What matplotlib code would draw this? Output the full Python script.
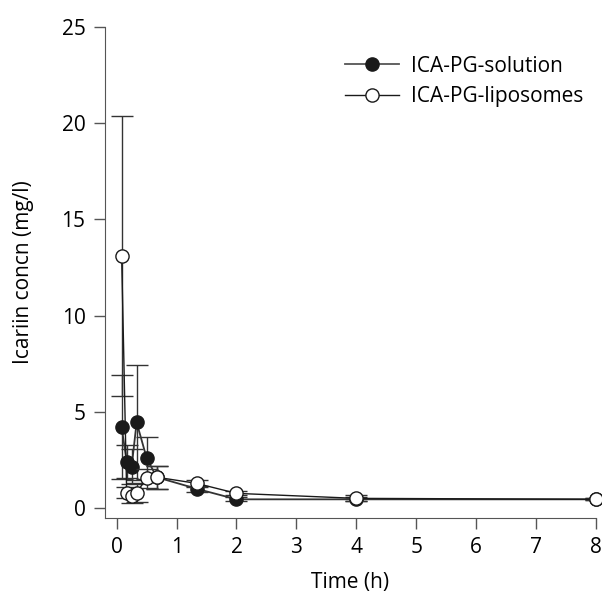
import numpy as np
import matplotlib.pyplot as plt
from matplotlib.lines import Line2D

plt.rcParams['font.family'] = ['Open Sans', 'DejaVu Sans']

# sampling times (h)
time = [0.083, 0.167, 0.25, 0.333, 0.5, 0.667, 1.333, 2, 4, 8]

# ICA-PG-solution, mean and SD (mg/l)
sol_mean = [4.2, 2.4, 2.15, 4.45, 2.6, 1.6, 1.0, 0.45, 0.45, 0.45]
sol_sd = [2.7, 0.85, 0.9, 3.0, 1.1, 0.6, 0.15, 0.1, 0.1, 0.05]

# ICA-PG-liposomes, mean and SD (mg/l)
lip_mean = [13.1, 0.8, 0.6, 0.8, 1.55, 1.6, 1.28, 0.76, 0.5, 0.45]
lip_sd = [7.3, 0.3, 0.35, 0.5, 0.5, 0.6, 0.2, 0.1, 0.15, 0.05]

fig = plt.figure(figsize=(6.02, 5.98), dpi=100)
ax = fig.add_axes([0.1744, 0.1338, 0.8156, 0.821])

ax.errorbar(time, sol_mean, yerr=sol_sd, fmt='-o', color='#333333', lw=1.3,
            mfc='#1a1a1a', mec='#1a1a1a', ms=9.5, capsize=8, elinewidth=1,
            ecolor='#333333', clip_on=False, zorder=3)
ax.errorbar(time, lip_mean, yerr=lip_sd, fmt='-o', color='#1a1a1a', lw=1,
            mfc='white', mec='#1a1a1a', ms=9.5, capsize=8, elinewidth=1,
            ecolor='#333333', clip_on=False, zorder=4)

ax.set_xlim(-0.195, 8)
ax.set_ylim(-0.52, 25)
ax.set_xticks(range(0, 9))
ax.set_yticks([0, 5, 10, 15, 20, 25])
ax.spines['top'].set_visible(False)
ax.spines['right'].set_visible(False)
for s in ['left', 'bottom']:
    ax.spines[s].set_color('#555555')
ax.tick_params(direction='out', length=8, width=1, color='#555555',
               labelsize=15, pad=6)

ax.set_xlabel('Time (h)', fontsize=15, labelpad=10)
ax.set_ylabel('Icariin concn (mg/l)', fontsize=15, labelpad=20)

handles = [
    Line2D([], [], color='#555555', lw=1.3, marker='o', ms=9.5,
           mfc='#1a1a1a', mec='#1a1a1a'),
    Line2D([], [], color='#1a1a1a', lw=1, marker='o', ms=9.5,
           mfc='white', mec='#1a1a1a'),
]
ax.legend(handles, ['ICA-PG-solution', 'ICA-PG-liposomes'],
          loc='upper left', bbox_to_anchor=(0.45, 0.98), frameon=False,
          fontsize=15, handlelength=2.6, handletextpad=0.6,
          labelspacing=0.45)

fig.savefig('out.png', dpi=100)
